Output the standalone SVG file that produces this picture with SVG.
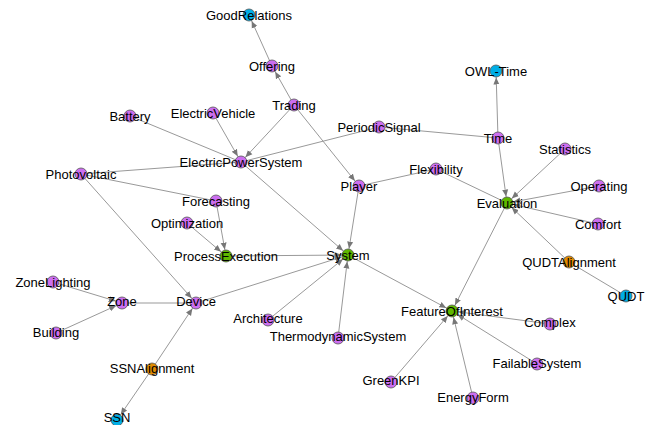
<svg xmlns="http://www.w3.org/2000/svg" width="652" height="425" viewBox="0 0 652 425">
<style>
.e{stroke:#999;stroke-width:1;fill:none}
.a{marker-end:url(#arr)}
.n{stroke:#555;stroke-width:0.8}
.p{fill:#cc6ef0}
.g{fill:#5fb800}
.b{fill:#00aee6}
.o{fill:#e08a00}
text{font-family:"Liberation Sans",Arial,sans-serif;font-size:13px;fill:#000;text-anchor:middle}
</style>
<defs>
<marker id="arr" markerUnits="userSpaceOnUse" markerWidth="8" markerHeight="8" viewBox="0 0 8 8" refX="13.5" refY="4" orient="auto">
<path d="M0,1 L7,4 L0,7 z" fill="#777"/>
</marker>
</defs>
<rect width="652" height="425" fill="#fff"/>
<g id="edges">
<line class="e a" x1="272" y1="66" x2="249" y2="15"/>
<line class="e a" x1="294" y1="105" x2="272" y2="66"/>
<line class="e a" x1="294" y1="105" x2="241" y2="162"/>
<line class="e a" x1="294" y1="105" x2="359" y2="186"/>
<line class="e a" x1="213" y1="113" x2="241" y2="162"/>
<line class="e" x1="130" y1="116" x2="241" y2="162"/>
<line class="e" x1="379" y1="127" x2="241" y2="162"/>
<line class="e" x1="379" y1="127" x2="498" y2="138"/>
<line class="e" x1="81" y1="174" x2="241" y2="162"/>
<line class="e" x1="81" y1="174" x2="216" y2="201"/>
<line class="e a" x1="81" y1="174" x2="196" y2="303"/>
<line class="e a" x1="216" y1="201" x2="226" y2="256"/>
<line class="e a" x1="187" y1="223" x2="226" y2="256"/>
<line class="e a" x1="226" y1="256" x2="348" y2="255"/>
<line class="e a" x1="241" y1="162" x2="348" y2="255"/>
<line class="e a" x1="359" y1="186" x2="348" y2="255"/>
<line class="e" x1="359" y1="186" x2="436" y2="169"/>
<line class="e" x1="436" y1="169" x2="507" y2="203"/>
<line class="e a" x1="498" y1="138" x2="496" y2="71"/>
<line class="e a" x1="498" y1="138" x2="507" y2="203"/>
<line class="e a" x1="565" y1="149" x2="507" y2="203"/>
<line class="e a" x1="599" y1="186" x2="507" y2="203"/>
<line class="e a" x1="598" y1="224" x2="507" y2="203"/>
<line class="e a" x1="569" y1="262" x2="507" y2="203"/>
<line class="e" x1="569" y1="262" x2="626" y2="296"/>
<line class="e a" x1="507" y1="203" x2="452" y2="311"/>
<line class="e a" x1="348" y1="255" x2="452" y2="311"/>
<line class="e a" x1="550" y1="324" x2="452" y2="311"/>
<line class="e a" x1="537" y1="364" x2="452" y2="311"/>
<line class="e a" x1="391" y1="382" x2="452" y2="311"/>
<line class="e a" x1="473" y1="398" x2="452" y2="311"/>
<line class="e a" x1="268" y1="320" x2="348" y2="255"/>
<line class="e a" x1="338" y1="338" x2="348" y2="255"/>
<line class="e a" x1="196" y1="303" x2="348" y2="255"/>
<line class="e a" x1="53" y1="282" x2="122" y2="303"/>
<line class="e a" x1="56" y1="333" x2="122" y2="303"/>
<line class="e" x1="122" y1="303" x2="196" y2="303"/>
<line class="e a" x1="152" y1="369" x2="196" y2="303"/>
<line class="e a" x1="152" y1="369" x2="117" y2="420"/>
</g>
<g id="nodes">
<g id="GoodRelations"><circle class="n b" cx="249" cy="15" r="6"/><text x="249" y="20">GoodRelations</text></g>
<g id="Offering"><circle class="n p" cx="272" cy="66" r="6"/><text x="272" y="71">Offering</text></g>
<g id="Trading"><circle class="n p" cx="294" cy="105" r="6"/><text x="294" y="110">Trading</text></g>
<g id="ElectricVehicle"><circle class="n p" cx="213" cy="113" r="6"/><text x="213" y="118">ElectricVehicle</text></g>
<g id="Battery"><circle class="n p" cx="130" cy="116" r="6"/><text x="130" y="121">Battery</text></g>
<g id="PeriodicSignal"><circle class="n p" cx="379" cy="127" r="6"/><text x="379" y="132">PeriodicSignal</text></g>
<g id="OWL-Time"><circle class="n b" cx="496" cy="71" r="6"/><text x="496" y="76">OWL-Time</text></g>
<g id="Time"><circle class="n p" cx="498" cy="138" r="6"/><text x="498" y="143">Time</text></g>
<g id="Statistics"><circle class="n p" cx="565" cy="149" r="6"/><text x="565" y="154">Statistics</text></g>
<g id="ElectricPowerSystem"><circle class="n p" cx="241" cy="162" r="6"/><text x="241" y="167">ElectricPowerSystem</text></g>
<g id="Photovoltaic"><circle class="n p" cx="81" cy="174" r="6"/><text x="81" y="179">Photovoltaic</text></g>
<g id="Flexibility"><circle class="n p" cx="436" cy="169" r="6"/><text x="436" y="174">Flexibility</text></g>
<g id="Player"><circle class="n p" cx="359" cy="186" r="6"/><text x="359" y="191">Player</text></g>
<g id="Operating"><circle class="n p" cx="599" cy="186" r="6"/><text x="599" y="191">Operating</text></g>
<g id="Forecasting"><circle class="n p" cx="216" cy="201" r="6"/><text x="216" y="206">Forecasting</text></g>
<g id="Evaluation"><circle class="n g" cx="507" cy="203" r="6"/><text x="507" y="208">Evaluation</text></g>
<g id="Optimization"><circle class="n p" cx="187" cy="223" r="6"/><text x="187" y="228">Optimization</text></g>
<g id="Comfort"><circle class="n p" cx="598" cy="224" r="6"/><text x="598" y="229">Comfort</text></g>
<g id="ProcessExecution"><circle class="n g" cx="226" cy="256" r="6"/><text x="226" y="261">ProcessExecution</text></g>
<g id="System"><circle class="n g" cx="348" cy="255" r="6"/><text x="348" y="260">System</text></g>
<g id="QUDTAlignment"><circle class="n o" cx="569" cy="262" r="6"/><text x="569" y="267">QUDTAlignment</text></g>
<g id="QUDT"><circle class="n b" cx="626" cy="296" r="6"/><text x="626" y="301">QUDT</text></g>
<g id="ZoneLighting"><circle class="n p" cx="53" cy="282" r="6"/><text x="53" y="287">ZoneLighting</text></g>
<g id="Zone"><circle class="n p" cx="122" cy="303" r="6"/><text x="122" y="306">Zone</text></g>
<g id="Device"><circle class="n p" cx="196" cy="303" r="6"/><text x="196" y="306">Device</text></g>
<g id="FeatureOfInterest"><circle class="n g" cx="452" cy="311" r="6"/><text x="452" y="316">FeatureOfInterest</text></g>
<g id="Building"><circle class="n p" cx="56" cy="333" r="6"/><text x="56" y="337">Building</text></g>
<g id="Architecture"><circle class="n p" cx="268" cy="320" r="6"/><text x="268" y="323">Architecture</text></g>
<g id="Complex"><circle class="n p" cx="550" cy="324" r="6"/><text x="550" y="327">Complex</text></g>
<g id="ThermodynamicSystem"><circle class="n p" cx="338" cy="338" r="6"/><text x="338" y="341">ThermodynamicSystem</text></g>
<g id="SSNAlignment"><circle class="n o" cx="152" cy="369" r="6"/><text x="152" y="373">SSNAlignment</text></g>
<g id="FailableSystem"><circle class="n p" cx="537" cy="364" r="6"/><text x="537" y="368">FailableSystem</text></g>
<g id="GreenKPI"><circle class="n p" cx="391" cy="382" r="6"/><text x="391" y="385">GreenKPI</text></g>
<g id="EnergyForm"><circle class="n p" cx="473" cy="398" r="6"/><text x="473" y="402">EnergyForm</text></g>
<g id="SSN"><circle class="n b" cx="117" cy="420" r="6"/><text x="117" y="422">SSN</text></g>
</g>
</svg>
